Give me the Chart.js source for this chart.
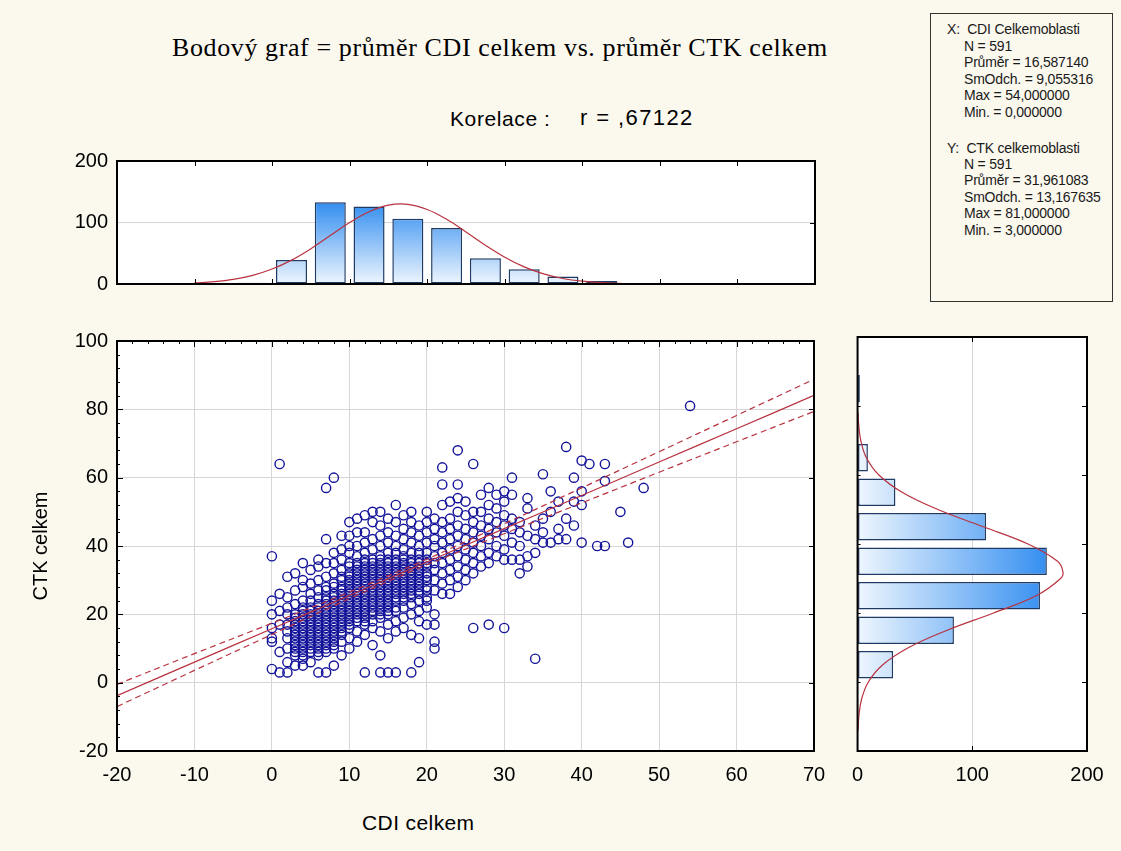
<!DOCTYPE html>
<html>
<head>
<meta charset="utf-8">
<script src="https://cdn.jsdelivr.net/npm/chart.js@4.4.0/dist/chart.umd.min.js"></script>
<style>
  body { margin: 0; background: #fbf8ee; width: 1121px; height: 851px; position: relative; overflow: hidden;
         font-family: "Liberation Sans", Arial, sans-serif; }
  canvas { position: absolute; }
  .txt { position: absolute; line-height: 1; white-space: pre; }
  #title { left: 0; width: 1000px; top: 35px; text-align: center;
           font-family: "Liberation Serif", "Times New Roman", serif; font-size: 26px; letter-spacing: 0.6px; }
  #korA { left: 450px; top: 108px; font-size: 21px; letter-spacing: 0.6px; }
  #korB { left: 580px; top: 107px; font-size: 22px; letter-spacing: 1.4px; }
  #xTitle { left: 362px; top: 812px; font-size: 21px; letter-spacing: 0.4px; }
  #stats { position: absolute; left: 930px; top: 13px; width: 183px; height: 289px; box-sizing: border-box;
           border: 1px solid #333; }
  #stats div { position: absolute; font-size: 14px; letter-spacing: -0.2px; line-height: 1; white-space: pre; color: #1a1a1a; }
</style>
</head>
<body>
<div id="title" class="txt">Bodový graf = průměr CDI celkem vs. průměr CTK celkem</div>
<div id="korA" class="txt">Korelace :</div>
<div id="korB" class="txt">r = ,67122</div>
<div id="xTitle" class="txt">CDI celkem</div>
<div id="stats"></div>
<canvas id="topHist" width="840" height="165" style="left:0;top:140px"></canvas>
<canvas id="scatter" width="840" height="530" style="left:0;top:320px"></canvas>
<canvas id="rightHist" width="281" height="530" style="left:840px;top:320px"></canvas>
<script>
// histogram CDI (nahoře)
const cdiBins = [-2.5, 2.5, 7.5, 12.5, 17.5, 22.5, 27.5, 32.5, 37.5, 42.5];
const cdiCounts = [2, 39, 133, 126, 106, 91, 42, 24, 12, 5];
const cdiCurveX = [-10, -7.5, -5, -2.5, 0, 2.5, 5, 7.5, 10, 12.5, 15, 17.5, 20, 22.5, 25, 27.5, 30, 32.5, 35, 37.5, 40, 42.5, 45];
const cdiCurveY = [1.7, 3.8, 7.6, 14.1, 24.3, 38.8, 57.4, 78.7, 99.9, 117.5, 128.2, 129.6, 121.2, 105.2, 84.6, 63.0, 43.5, 27.8, 16.5, 9.0, 4.6, 2.2, 1.0];
const topHistYTicks = [0, 100, 200];

// histogram CTK (vpravo)
const ctkBins = [5, 15, 25, 35, 45, 55, 65, 85];
const ctkCounts = [31, 84, 159, 165, 112, 33, 9, 2];
const ctkCurveY = [-14, -10, -5, 0, 5, 10, 15, 20, 25, 30, 32, 35, 40, 45, 50, 55, 60, 65, 70, 75, 78];
const ctkCurveN = [0.4, 1.1, 3.5, 9.4, 22.0, 44.6, 78.1, 118.5, 155.7, 177.0, 179.0, 174.3, 148.6, 109.7, 70.0, 38.8, 18.6, 7.7, 2.8, 0.9, 0.4];
const rightHistXTicks = [0, 100, 200];

// regrese + 95% pás
const regX = [-20, -10, 0, 10, 16.6, 20, 30, 40, 50, 60, 70];
const regFit = [-3.8, 6.0, 15.8, 25.5, 32.0, 35.3, 45.1, 54.8, 64.6, 74.3, 84.1];
const regUpper = [-0.5, 8.5, 17.4, 26.5, 32.8, 36.1, 46.5, 57.0, 67.6, 78.2, 88.8];
const regLower = [-7.0, 3.6, 14.1, 24.6, 31.2, 34.5, 43.6, 52.6, 61.6, 70.5, 79.4];

const scatterXTicks = [-20, -10, 0, 10, 20, 30, 40, 50, 60, 70];
const scatterYTicks = [-20, 0, 20, 40, 60, 80, 100];

// body grafu: [CDI, [CTK hodnoty]]
const pointsByCdi = [
  [0, [4, 12, 13, 16, 20, 24, 37]],
  [1, [3, 9, 17, 21, 26, 64]],
  [2, [3, 6, 10, 13, 15, 17, 20, 22, 25, 31]],
  [3, [5, 8, 9, 10, 11, 12, 13, 14, 15, 16, 17, 18, 19, 20, 23, 27, 32]],
  [4, [5, 7, 8, 9, 10, 11, 12, 13, 14, 15, 16, 17, 18, 19, 20, 21, 22, 24, 28, 30, 35]],
  [5, [6, 9, 10, 11, 12, 13, 14, 15, 16, 17, 18, 19, 20, 21, 22, 24, 26, 29, 33]],
  [6, [3, 8, 9, 10, 11, 12, 13, 14, 15, 16, 17, 18, 19, 20, 21, 22, 23, 25, 27, 30, 34, 36]],
  [7, [3, 9, 10, 11, 12, 13, 14, 15, 16, 17, 18, 19, 20, 21, 22, 23, 24, 25, 27, 28, 31, 35, 42, 57]],
  [8, [5, 10, 11, 12, 13, 14, 15, 16, 17, 18, 19, 20, 21, 22, 23, 24, 25, 26, 28, 29, 32, 35, 38, 60]],
  [9, [8, 12, 14, 15, 16, 17, 18, 19, 20, 21, 22, 23, 24, 25, 26, 27, 28, 30, 31, 33, 36, 39, 43]],
  [10, [10, 13, 16, 17, 18, 19, 20, 21, 22, 23, 24, 25, 26, 27, 28, 29, 30, 31, 32, 34, 35, 38, 40, 43, 47]],
  [11, [12, 15, 18, 19, 20, 21, 22, 23, 24, 25, 26, 27, 28, 29, 30, 31, 32, 33, 34, 35, 37, 40, 44, 48]],
  [12, [3, 14, 17, 18, 19, 20, 21, 22, 23, 24, 25, 26, 27, 28, 29, 30, 31, 32, 33, 34, 35, 36, 38, 41, 44, 49]],
  [13, [11, 16, 18, 20, 21, 22, 23, 24, 25, 26, 27, 28, 29, 30, 31, 32, 33, 34, 35, 36, 39, 42, 47, 50]],
  [14, [3, 8, 15, 19, 20, 21, 22, 23, 24, 25, 26, 27, 28, 29, 30, 31, 32, 33, 34, 35, 36, 37, 40, 43, 46, 50]],
  [15, [3, 13, 17, 20, 21, 22, 23, 24, 25, 26, 27, 28, 29, 30, 31, 32, 33, 34, 35, 36, 38, 41, 44, 48]],
  [16, [3, 15, 18, 21, 22, 24, 25, 26, 27, 28, 29, 30, 31, 32, 33, 34, 35, 36, 38, 40, 43, 47, 52]],
  [17, [16, 19, 22, 24, 25, 26, 27, 28, 29, 30, 31, 32, 33, 34, 35, 36, 37, 39, 42, 45, 49]],
  [18, [3, 14, 20, 23, 25, 26, 27, 28, 29, 30, 31, 32, 33, 34, 35, 36, 38, 41, 44, 47, 50]],
  [19, [6, 13, 18, 21, 24, 26, 27, 28, 29, 30, 31, 32, 33, 34, 35, 36, 38, 40, 43, 46]],
  [20, [17, 22, 24, 25, 27, 28, 30, 31, 32, 34, 35, 36, 38, 41, 44, 47, 50]],
  [21, [10, 12, 17, 20, 27, 30, 33, 35, 37, 40, 42, 45, 48]],
  [22, [26, 29, 32, 35, 38, 41, 44, 47, 52, 58, 63]],
  [23, [26, 30, 33, 36, 39, 42, 45, 48, 53]],
  [24, [28, 31, 34, 37, 40, 43, 46, 50, 54, 58, 68]],
  [25, [30, 33, 36, 39, 42, 45, 49, 53]],
  [26, [16, 32, 35, 38, 41, 44, 47, 50, 64]],
  [27, [34, 37, 40, 43, 46, 50, 55]],
  [28, [17, 35, 38, 42, 45, 48, 52, 57]],
  [29, [37, 40, 44, 47, 51, 55]],
  [30, [16, 36, 39, 43, 46, 49, 53, 56]],
  [31, [36, 41, 45, 48, 55, 60]],
  [32, [32, 36, 40, 44, 47]],
  [33, [34, 37, 43, 51, 54]],
  [34, [7, 38, 42, 46]],
  [35, [41, 44, 48, 61]],
  [36, [41, 50, 56]],
  [37, [42, 45, 53]],
  [38, [42, 48, 69]],
  [39, [46, 53, 60]],
  [40, [41, 52, 56, 65]],
  [41, [64]],
  [42, [40]],
  [43, [40, 59, 64]],
  [45, [50]],
  [46, [41]],
  [48, [57]],
  [54, [81]]
];

const statsX = ['N = 591', 'Průměr = 16,587140', 'SmOdch. = 9,055316', 'Max = 54,000000', 'Min. = 0,000000'];
const statsY = ['N = 591', 'Průměr = 31,961083', 'SmOdch. = 13,167635', 'Max = 81,000000', 'Min. = 3,000000'];

// statistiky v rámečku
const box = document.getElementById('stats');
function addLine(text, left, top) {
  const d = document.createElement('div');
  d.textContent = text;
  d.style.left = left + 'px';
  d.style.top = top + 'px';
  box.appendChild(d);
}
addLine('X:  CDI Celkemoblasti', 16, 8);
statsX.forEach((t, i) => addLine(t, 33, 25 + i * 16.4));
addLine('Y:  CTK celkemoblasti', 16, 127);
statsY.forEach((t, i) => addLine(t, 33, 143 + i * 16.4));

const red = '#b8323f';
const navy = '#14149a';
const gridColor = '#d6d6d6';
const tickFont = { size: 20 };

Chart.defaults.font.family = '"Liberation Sans", Arial, sans-serif';
Chart.defaults.color = '#000';

// bílá plocha grafu, rámeček a vnitřní značky os
const frame = {
  id: 'frame',
  beforeDraw(chart) {
    const { ctx, chartArea: a } = chart;
    ctx.save();
    ctx.fillStyle = '#fff';
    ctx.fillRect(a.left, a.top, a.right - a.left, a.bottom - a.top);
    ctx.restore();
  },
  afterDraw(chart, args, opts) {
    const { ctx, chartArea: a, scales } = chart;
    ctx.save();
    ctx.strokeStyle = '#000';
    ctx.lineWidth = 1;
    (opts.marks || []).forEach(m => {
      const s = scales[m.scale];
      m.values.forEach(v => {
        const p = Math.round(s.getPixelForValue(v)) + 0.5;
        ctx.beginPath();
        if (m.edge === 'top') { ctx.moveTo(p, a.top); ctx.lineTo(p, a.top + m.len); }
        if (m.edge === 'bottom') { ctx.moveTo(p, a.bottom); ctx.lineTo(p, a.bottom - m.len); }
        if (m.edge === 'left') { ctx.moveTo(a.left, p); ctx.lineTo(a.left + m.len, p); }
        if (m.edge === 'right') { ctx.moveTo(a.right, p); ctx.lineTo(a.right - m.len, p); }
        ctx.stroke();
      });
    });
    ctx.lineWidth = 2;
    ctx.strokeRect(a.left, a.top, a.right - a.left, a.bottom - a.top);
    ctx.restore();
  }
};

function steps(from, to, step) {
  const out = [];
  for (let v = from; v <= to + 1e-9; v += step) out.push(v);
  return out;
}

// --- bodový graf ---
const scatterPoints = [];
pointsByCdi.forEach(([x, ys]) => ys.forEach(y => scatterPoints.push({ x: x, y: y })));

const lineDs = (ys, dash) => ({
  type: 'line',
  data: regX.map((x, i) => ({ x: x, y: ys[i] })),
  borderColor: red,
  borderWidth: 1.2,
  borderDash: dash,
  pointRadius: 0,
  tension: 0.4,
  order: 0
});

new Chart(document.getElementById('scatter'), {
  type: 'scatter',
  data: {
    datasets: [
      lineDs(regFit, []),
      lineDs(regUpper, [6, 4]),
      lineDs(regLower, [6, 4]),
      {
        data: scatterPoints,
        pointRadius: 4.6,
        borderColor: navy,
        pointBorderColor: navy,
        backgroundColor: 'rgba(0,0,0,0)',
        pointBackgroundColor: 'rgba(0,0,0,0)',
        pointBorderWidth: 1.4,
        order: 1
      }
    ]
  },
  options: {
    responsive: false,
    animation: false,
    events: [],
    layout: { padding: { left: 29, right: 26, top: 17, bottom: 16 } },
    plugins: {
      legend: { display: false },
      tooltip: { enabled: false },
      frame: {
        marks: [
          { scale: 'x', edge: 'top', values: steps(-20, 70, 2), len: 3 },
          { scale: 'x', edge: 'top', values: scatterXTicks, len: 6 },
          { scale: 'y', edge: 'left', values: steps(-20, 100, 4), len: 3 },
          { scale: 'y', edge: 'left', values: scatterYTicks, len: 6 },
          { scale: 'y', edge: 'right', values: scatterYTicks, len: 5 }
        ]
      }
    },
    scales: {
      x: {
        type: 'linear', min: -20, max: 70,
        afterBuildTicks: s => { s.ticks = scatterXTicks.map(v => ({ value: v })); },
        afterFit: s => { s.height = 83; },
        grid: { color: gridColor, drawTicks: false },
        border: { display: false },
        ticks: { padding: 12, font: tickFont, color: '#000' }
      },
      y: {
        type: 'linear', min: -20, max: 100,
        afterBuildTicks: s => { s.ticks = scatterYTicks.map(v => ({ value: v })); },
        afterFit: s => { s.width = 88; },
        grid: { color: gridColor, drawTicks: false },
        border: { display: false },
        ticks: { padding: 9, font: tickFont, color: '#000' },
        title: { display: true, text: 'CTK celkem', font: { size: 20 }, padding: 0, color: '#000' }
      }
    }
  },
  plugins: [frame]
});

// --- horní histogram ---
function vGrad(c) {
  const chart = c.chart;
  if (!chart.chartArea) return '#8cc4f5';
  const y = chart.scales.y;
  const g = chart.ctx.createLinearGradient(0, y.getPixelForValue(0), 0, y.getPixelForValue(135));
  g.addColorStop(0, '#eef6fe');
  g.addColorStop(1, '#2f8cf0');
  return g;
}

new Chart(document.getElementById('topHist'), {
  type: 'bar',
  data: {
    datasets: [
      {
        type: 'line',
        data: cdiCurveX.map((x, i) => ({ x: x, y: cdiCurveY[i] })),
        borderColor: red, borderWidth: 1.2, pointRadius: 0, tension: 0.4, order: 0
      },
      {
        type: 'bar',
        data: cdiBins.map((x, i) => ({ x: x, y: cdiCounts[i] })),
        backgroundColor: vGrad,
        borderColor: '#1f3a64', borderWidth: 1.5, borderSkipped: false,
        categoryPercentage: 1, barPercentage: 0.8, order: 1
      }
    ]
  },
  options: {
    responsive: false,
    animation: false,
    events: [],
    layout: { padding: { left: 0, right: 25, top: 13, bottom: 0 } },
    plugins: {
      legend: { display: false },
      tooltip: { enabled: false },
      frame: {
        marks: [
          { scale: 'x', edge: 'top', values: steps(-10, 60, 10), len: 5 },
          { scale: 'x', edge: 'bottom', values: steps(-10, 60, 10), len: 5 },
          { scale: 'y', edge: 'right', values: [100], len: 5 }
        ]
      }
    },
    scales: {
      x: {
        type: 'linear', min: -20, max: 70, offset: false,
        grid: { display: false, offset: false },
        border: { display: false },
        ticks: { display: false },
        afterFit: s => { s.height = 15; }
      },
      y: {
        type: 'linear', min: 0, max: 200,
        afterBuildTicks: s => { s.ticks = topHistYTicks.map(v => ({ value: v })); },
        afterFit: s => { s.width = 117; },
        grid: { color: gridColor, drawTicks: false },
        border: { display: false },
        ticks: { padding: 9, font: tickFont, color: '#000' }
      }
    }
  },
  plugins: [frame]
});

// --- pravý histogram ---
function hGrad(c) {
  const chart = c.chart;
  if (!chart.chartArea) return '#8cc4f5';
  const x = chart.scales.x;
  const g = chart.ctx.createLinearGradient(x.getPixelForValue(0), 0, x.getPixelForValue(170), 0);
  g.addColorStop(0, '#eef6fe');
  g.addColorStop(1, '#2f8cf0');
  return g;
}

new Chart(document.getElementById('rightHist'), {
  type: 'bar',
  data: {
    datasets: [
      {
        type: 'line',
        data: ctkCurveY.map((y, i) => ({ x: ctkCurveN[i], y: y })),
        borderColor: red, borderWidth: 1.2, pointRadius: 0, tension: 0.4, order: 0
      },
      {
        type: 'bar',
        data: ctkBins.map((y, i) => ({ x: ctkCounts[i], y: y })),
        backgroundColor: hGrad,
        borderColor: '#1f3a64', borderWidth: 1.5, borderSkipped: false,
        categoryPercentage: 1, barPercentage: 0.8, order: 1
      }
    ]
  },
  options: {
    indexAxis: 'y',
    responsive: false,
    animation: false,
    events: [],
    layout: { padding: { left: 16, right: 34, top: 17, bottom: 16 } },
    plugins: {
      legend: { display: false },
      tooltip: { enabled: false },
      frame: {
        marks: [
          { scale: 'y', edge: 'right', values: steps(0, 80, 20), len: 5 },
          { scale: 'y', edge: 'left', values: steps(0, 80, 20), len: 3 },
          { scale: 'x', edge: 'top', values: [100], len: 5 },
          { scale: 'x', edge: 'bottom', values: [100], len: 5 }
        ]
      }
    },
    scales: {
      y: {
        type: 'linear', min: -20, max: 100, offset: false, display: false,
        grid: { display: false, offset: false }
      },
      x: {
        type: 'linear', min: 0, max: 200,
        afterBuildTicks: s => { s.ticks = rightHistXTicks.map(v => ({ value: v })); },
        afterFit: s => { s.height = 83; },
        grid: { color: gridColor, drawTicks: false },
        border: { display: false },
        ticks: { padding: 12, font: tickFont, color: '#000' }
      }
    }
  },
  plugins: [frame]
});
</script>
</body>
</html>
